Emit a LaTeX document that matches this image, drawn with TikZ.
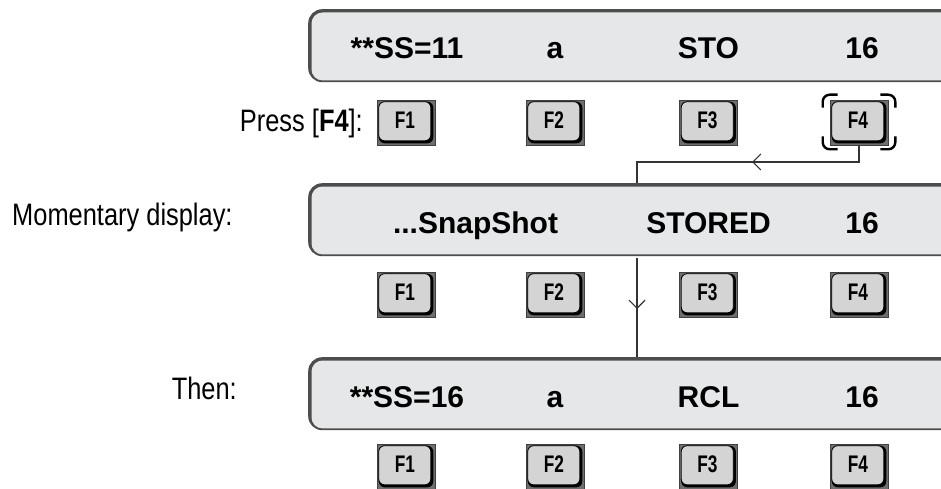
\documentclass[tikz,border=0pt]{standalone}
\usepackage{fontspec}
\setmainfont{Liberation Sans}
\newfontfamily\labfont{Liberation Sans}[FakeStretch=0.82]
\newfontfamily\keyfont{Liberation Sans}[FakeStretch=0.72]
\usetikzlibrary{calc,arrows.meta}
\definecolor{dispface}{HTML}{E6E7E8}
\definecolor{dispedge}{HTML}{4D4D4D}
\definecolor{keyface}{HTML}{D4D4D4}
\definecolor{keyframe}{HTML}{6E6E6E}
\definecolor{connc}{HTML}{333333}
\tikzset{
  keybox/.style={draw=black!75, fill=keyframe, line width=0.6pt, minimum width=58pt, minimum height=45pt, inner sep=0pt},
  keylabel/.style={font=\keyfont\bfseries\fontsize{24}{28}\selectfont, inner sep=0pt},
  dispbox/.style={fill=dispedge, rounded corners=14pt, minimum width=700pt, minimum height=73pt, inner sep=0pt, anchor=north west},
  disptext/.style={font=\bfseries\fontsize{30}{36}\selectfont, inner sep=0pt, anchor=base},
  labtext/.style={font=\labfont\fontsize{31}{36}\selectfont, inner sep=0pt},
  conn/.style={draw=connc, line width=1.1pt},
  tip/.style={draw=connc, line width=1.1pt, -{Straight Barb[length=8pt,width=16pt,line width=1.1pt]}},
  bracket/.style={draw=black, line width=2.4pt, rounded corners=7pt}
}
\newcommand\keybtn[4]{%
  \node[keybox] (#1) at (#2,#3) {};
  \fill[black, rounded corners=6pt] ($(#1.north west)+(2,2)$) rectangle ($(#1.south east)+(-2,-2)$);
  \filldraw[fill=keyface, draw=black, line width=0.8pt, rounded corners=6pt] ($(#1.north west)+(2,2)$) rectangle ($(#1.south east)+(-4.5,-4.5)$);
  \node[keylabel] (#1l) at ($(#1.center)+(-1,-2)$) {#4};
}
\newcommand\dispbar[2]{%
  \node[dispbox] (#1) at (308,#2) {};
  \fill[dispface, rounded corners=11pt] ($(#1.north west)+(3.5,3.5)$) rectangle ($(#1.south east)+(0,-2)$);
}
\begin{document}
\begin{tikzpicture}[x=1pt,y=-1pt]
\useasboundingbox[fill=white] (0,0) rectangle (941,489);
% displays
\dispbar{d1}{9}
\dispbar{d2}{183}
\dispbar{d3}{357}
% display texts
\node[disptext] (t11) at (407,59) {**SS=11};
\node[disptext] (t12) at (555,59) {a};
\node[disptext] (t13) at (708.5,59) {STO};
\node[disptext] (t14) at (862,59) {16};
\node[disptext] (t21) at (475.5,233) {...SnapShot};
\node[disptext] (t23) at (708.5,233) {STORED};
\node[disptext] (t24) at (862,233) {16};
\node[disptext] (t31) at (407,407) {**SS=16};
\node[disptext] (t32) at (555,407) {a};
\node[disptext] (t33) at (708.5,407) {RCL};
\node[disptext] (t34) at (862,407) {16};
% keys
\keybtn{k11}{406}{122.5}{F1}
\keybtn{k12}{555}{122.5}{F2}
\keybtn{k13}{708.5}{122.5}{F3}
\keybtn{k14}{859}{122.5}{F4}
\keybtn{k21}{406}{294.5}{F1}
\keybtn{k22}{555}{294.5}{F2}
\keybtn{k23}{708.5}{294.5}{F3}
\keybtn{k24}{859}{294.5}{F4}
\keybtn{k31}{406}{466.5}{F1}
\keybtn{k32}{555}{466.5}{F2}
\keybtn{k33}{708.5}{466.5}{F3}
\keybtn{k34}{859}{466.5}{F4}
% labels
\node[labtext, anchor=base east] (lpress) at (363,132) {Press [\textbf{F4}]:};
\node[labtext, anchor=base west] (lmom) at (12,225) {Momentary display:};
\node[labtext, anchor=base east] (lthen) at (237,399) {Then:};
% brackets round F4
\coordinate (btl) at ($(k14.north west)+(-7,-5)$);
\coordinate (bbr) at ($(k14.south east)+(7,4)$);
\coordinate (btr) at (bbr |- btl);
\coordinate (bbl) at (btl |- bbr);
\draw[bracket] ($(btl)+(15,0)$) -- (btl) -- ($(btl)+(0,13)$);
\draw[bracket] ($(btr)+(-15,0)$) -- (btr) -- ($(btr)+(0,13)$);
\draw[bracket] ($(bbl)+(15,0)$) -- (bbl) -- ($(bbl)+(0,-13)$);
\draw[bracket] ($(bbr)+(-15,0)$) -- (bbr) -- ($(bbr)+(0,-13)$);
% connectors
\coordinate (c1) at (637,162);
\draw[conn] (k14.south) |- (c1) -- (c1 |- d2.north);
\coordinate (tip1) at (752,162);
\draw[tip] ($(tip1)+(12,0)$) -- (tip1);
\draw[conn] ($(c1 |- d2.south)+(0,2)$) -- (c1 |- d3.north);
\coordinate (tip2) at (637,309);
\draw[tip] ($(tip2)+(0,-12)$) -- (tip2);
\end{tikzpicture}
\end{document}
